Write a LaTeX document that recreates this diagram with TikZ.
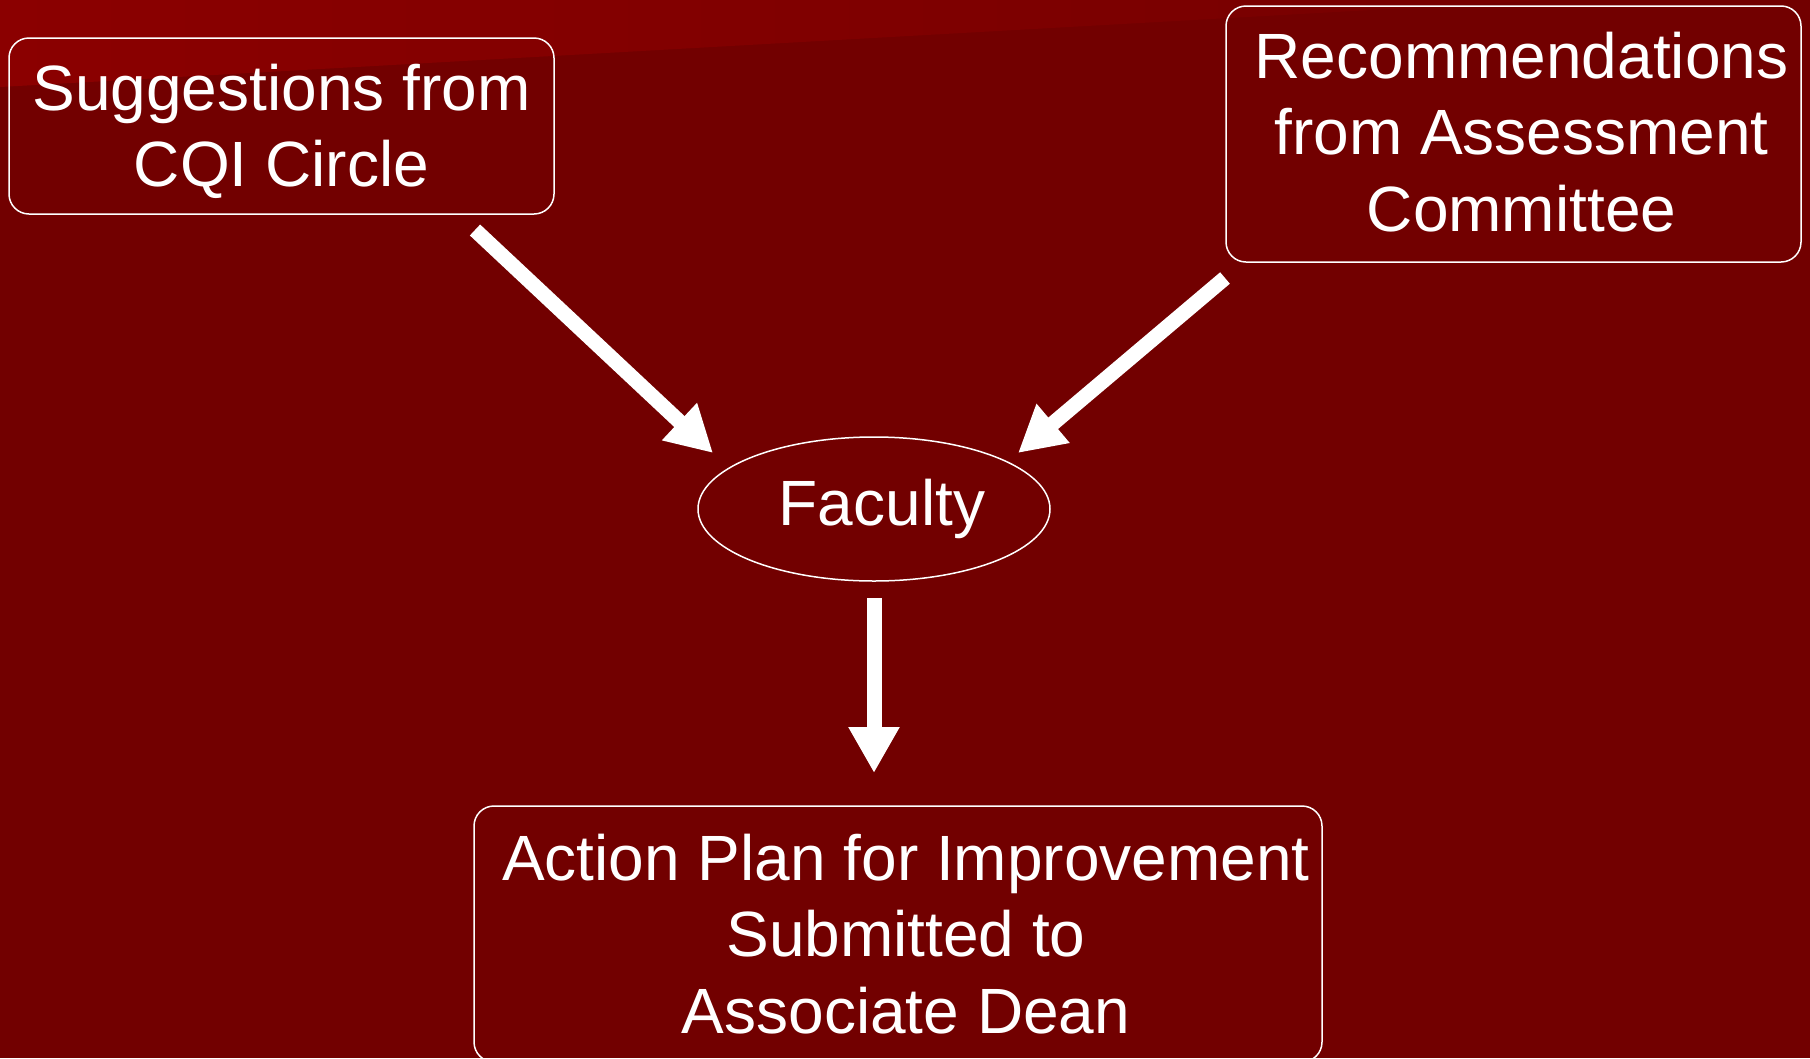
\documentclass[tikz,border=0pt]{standalone}
\usepackage{fontspec}
\setmainfont{Liberation Sans}
\usetikzlibrary{arrows.meta,shapes.geometric}
\definecolor{bgred}{RGB}{114,0,0}
\definecolor{toplight}{RGB}{139,0,0}
\definecolor{topdark}{RGB}{118,0,0}
\begin{document}
\begin{tikzpicture}[x=1pt,y=-1pt,
  bigtext/.style={text=white, font=\fontsize{64}{76.5}\selectfont},
  box/.style={bigtext, draw=white, line width=1.5pt, rounded corners=20pt, align=center, inner sep=0pt},
  blockarrow/.style={white, line width=15pt, -{Triangle[width=48pt,length=46pt]}}]
\useasboundingbox (0,0) rectangle (1810,1058);
\fill[bgred] (0,0) rectangle (1810,1058);
\shade[left color=toplight, right color=topdark] (0,0) -- (1550,0) -- (0,87) -- cycle;

\node[box, minimum width=545pt, minimum height=176pt] (cqi) at (281.5,126) {\rule{0pt}{57pt}Suggestions from\\CQI Circle};
\node[box, minimum width=575pt, minimum height=256pt] (rec) at (1513.5,134) {\hspace*{16pt}Recommendations\\\hspace*{16pt}from Assessment\\\hspace*{16pt}Committee\rule[-5pt]{0pt}{1pt}};
\node[ellipse, bigtext, draw=white, line width=1.5pt, minimum width=352pt, minimum height=144pt, inner sep=0pt] (fac) at (874,509) {\hspace*{16pt}Faculty};
\node[box, minimum width=848pt, minimum height=256pt] (act) at (898,934) {\hspace*{16pt}Action Plan for Improvement\\\hspace*{16pt}Submitted to\\\hspace*{16pt}Associate Dean};

\coordinate (a1s) at (475,230);
\coordinate (a1e) at (713,453);
\coordinate (a2s) at (1225,278);
\coordinate (a2e) at (1018,453);
\coordinate (a3s) at (874,598);
\coordinate (a3e) at (874,773);
\draw[blockarrow] (a1s) -- (a1e);
\draw[blockarrow] (a2s) -- (a2e);
\draw[blockarrow] (a3s) -- (a3e);
\end{tikzpicture}
\end{document}
